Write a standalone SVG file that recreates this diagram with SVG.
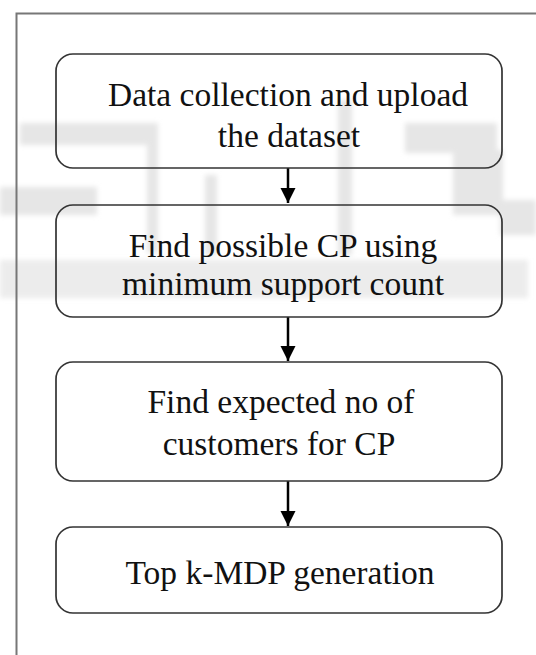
<svg xmlns="http://www.w3.org/2000/svg" width="536" height="655" viewBox="0 0 536 655">
  <style>
    .box { fill: none; stroke: #333; stroke-width: 1.7; }
    .lbl { font-family: "Liberation Serif", "Times New Roman", serif; font-size: 33.5px; fill: #111; text-anchor: middle; }
    .wm { fill: #e6e6e6; }
    .conn { stroke: #000; stroke-width: 2.5; fill: none; }
  </style>
  <defs>
    <filter id="soft" x="-10%" y="-10%" width="120%" height="120%">
      <feGaussianBlur stdDeviation="2.5"/>
    </filter>
    <marker id="arr" markerWidth="7" markerHeight="7" refX="6" refY="3.5" orient="auto" markerUnits="strokeWidth">
      <path d="M0,0.5 L6,3.5 L0,6.5 Z" fill="#000"/>
    </marker>
  </defs>
  <rect width="536" height="655" fill="#fff"/>
  <g id="watermark" filter="url(#soft)">
    <rect class="wm" x="20" y="123" width="130" height="22"/>
    <rect class="wm" x="0" y="187" width="97" height="28"/>
    <rect class="wm" x="147" y="123" width="11" height="130"/>
    <rect class="wm" x="205" y="175" width="12" height="80"/>
    <rect class="wm" x="338" y="100" width="14" height="155"/>
    <rect class="wm" x="405" y="123" width="92" height="30"/>
    <rect class="wm" x="453" y="150" width="50" height="65"/>
    <rect class="wm" x="500" y="200" width="36" height="35"/>
    <rect class="wm" x="0" y="260" width="528" height="38" opacity="0.75"/>
  </g>
  <path d="M16.5,655 V13.5 H536" fill="none" stroke="#777" stroke-width="2"/>
  <g id="connectors">
    <line class="conn" x1="288" y1="168" x2="288" y2="203" marker-end="url(#arr)"/>
    <line class="conn" x1="288" y1="317" x2="288" y2="361" marker-end="url(#arr)"/>
    <line class="conn" x1="288" y1="481" x2="288" y2="526" marker-end="url(#arr)"/>
  </g>
  <g id="n1">
    <rect class="box" x="56" y="54" width="446" height="114" rx="17"/>
    <text class="lbl" x="288" y="106">Data collection and upload</text>
    <text class="lbl" x="289" y="147">the dataset</text>
  </g>
  <g id="n2">
    <rect class="box" x="56" y="205" width="446" height="112" rx="17"/>
    <text class="lbl" x="283" y="257">Find possible CP using</text>
    <text class="lbl" x="283" y="295">minimum  support  count</text>
  </g>
  <g id="n3">
    <rect class="box" x="56" y="362" width="446" height="119" rx="17"/>
    <text class="lbl" x="281" y="413">Find expected no of</text>
    <text class="lbl" x="279" y="455">customers for CP</text>
  </g>
  <g id="n4">
    <rect class="box" x="56" y="527" width="446" height="86" rx="17"/>
    <text class="lbl" x="280" y="584">Top k-MDP generation</text>
  </g>
</svg>
